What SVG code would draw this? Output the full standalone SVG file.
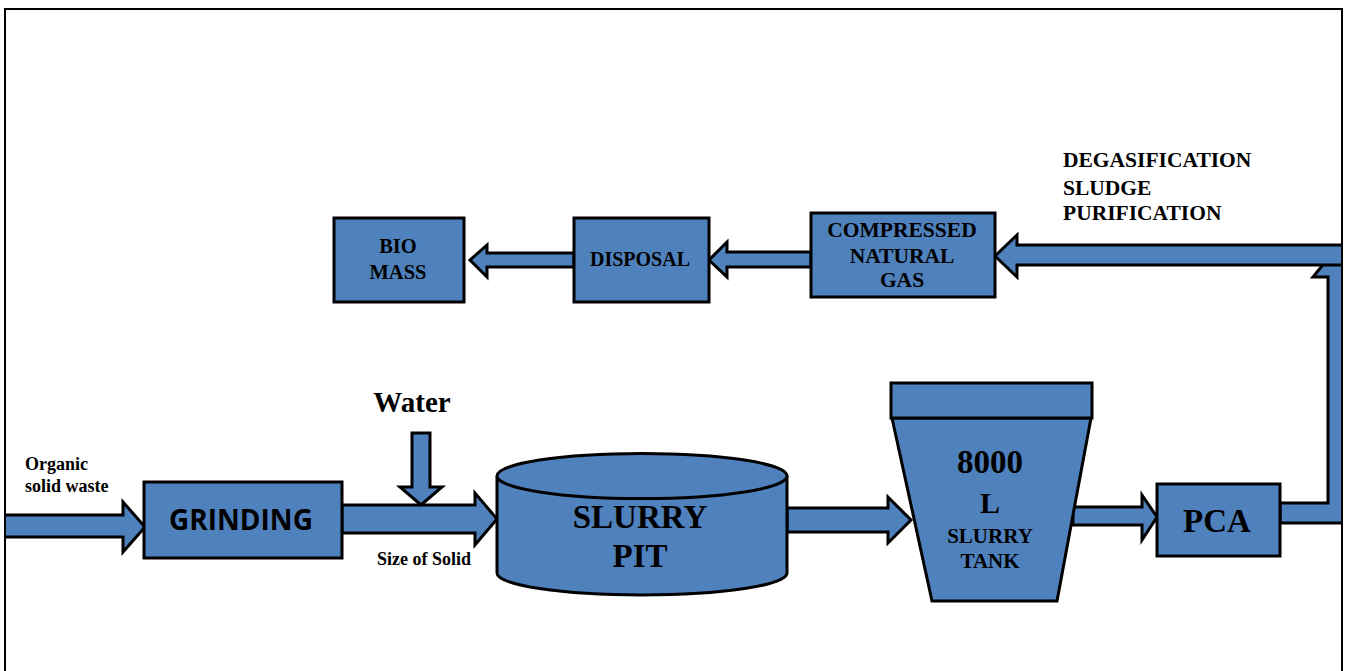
<svg xmlns="http://www.w3.org/2000/svg" width="1346" height="671" viewBox="0 0 1346 671">
<defs>
<style>
.shape{fill:#4F81BD;stroke:#000;stroke-width:3;stroke-linejoin:miter}
.t{font-family:"Liberation Serif","Times New Roman",serif;font-weight:bold;fill:#000}
.c{text-anchor:middle}
.s{font-family:"Open Sans","Liberation Sans",sans-serif;font-weight:bold;fill:#000;text-anchor:middle}
</style>
<clipPath id="frameClip"><rect x="5" y="0" width="1337" height="671"/></clipPath>
</defs>
<rect x="0" y="0" width="1346" height="671" fill="#fff"/>

<g id="connectors">
<path class="shape" d="M0,515 H123 V502 L145,527 L123,552 V537 H0 Z" clip-path="url(#frameClip)"/>
<path class="shape" d="M342,505 H475 V493 L497,519 L475,545 V533 H342 Z"/>
<path class="shape" d="M412,433 H430 V487 H442 L421,505 L400,487 H412 Z"/>
<path class="shape" d="M787,508 H888 V497 L911,520 L888,543 V532 H787 Z"/>
<path class="shape" d="M1073,507 H1142 V495 L1157,517 L1142,540 V525 H1073 Z"/>
<g clip-path="url(#frameClip)">
<path class="shape" d="M1280,503 H1328 V277 H1313 L1335,250 L1357,277 H1343 V523 H1280 Z"/>
<path class="shape" d="M1350,245 H1017 V235 L995,256 L1017,277 V265 H1350 Z"/>
</g>
<path class="shape" d="M811,252 H727 V242 L709,260 L727,277 V267 H811 Z"/>
<path class="shape" d="M574,253 H487 V245 L470,260 L487,277 V267 H574 Z"/>
</g>

<rect x="5" y="9" width="1337" height="700" fill="none" stroke="#000" stroke-width="2"/>

<g id="grinding">
<rect class="shape" x="144" y="482" width="198" height="76"/>
<text class="s" x="241" y="530" font-size="28">GRINDING</text>
</g>

<g id="slurry-pit">
<path class="shape" d="M497,476 V573 A145,22 0 0 0 787,573 V476"/>
<ellipse class="shape" cx="642" cy="476" rx="145" ry="22.5"/>
<text class="t c" x="640" y="528" font-size="33">SLURRY</text>
<text class="t c" x="640" y="567" font-size="33">PIT</text>
</g>

<g id="slurry-tank">
<polygon class="shape" points="892,418 1091,418 1057,601 932,601"/>
<rect class="shape" x="891" y="383" width="201" height="35"/>
<text class="t c" x="990" y="473" font-size="33">8000</text>
<text class="t c" x="990" y="513" font-size="30">L</text>
<text class="t c" x="990" y="543" font-size="21">SLURRY</text>
<text class="t c" x="990" y="568" font-size="21">TANK</text>
</g>

<g id="pca">
<rect class="shape" x="1157" y="484" width="123" height="72"/>
<text class="t c" x="1217" y="532" font-size="33">PCA</text>
</g>

<g id="cng">
<rect class="shape" x="811" y="213" width="184" height="84"/>
<text class="t c" x="902" y="237" font-size="21.5">COMPRESSED</text>
<text class="t c" x="902" y="263" font-size="21.5">NATURAL</text>
<text class="t c" x="902" y="287" font-size="21.5">GAS</text>
</g>

<g id="disposal">
<rect class="shape" x="574" y="218" width="135" height="84"/>
<text class="t c" x="640" y="266" font-size="20">DISPOSAL</text>
</g>

<g id="biomass">
<rect class="shape" x="334" y="218" width="130" height="84"/>
<text class="t c" x="398" y="253" font-size="20.5">BIO</text>
<text class="t c" x="398" y="279" font-size="20.5">MASS</text>
</g>

<g id="labels">
<text class="t" x="25" y="470" font-size="18">Organic</text>
<text class="t" x="25" y="492" font-size="18">solid waste</text>
<text class="t c" x="412" y="412" font-size="29">Water</text>
<text class="t" x="377" y="565" font-size="18">Size of Solid</text>
<text class="t" x="1063" y="167" font-size="21.5">DEGASIFICATION</text>
<text class="t" x="1063" y="195" font-size="21.5">SLUDGE</text>
<text class="t" x="1063" y="220" font-size="21.5">PURIFICATION</text>
</g>
</svg>
